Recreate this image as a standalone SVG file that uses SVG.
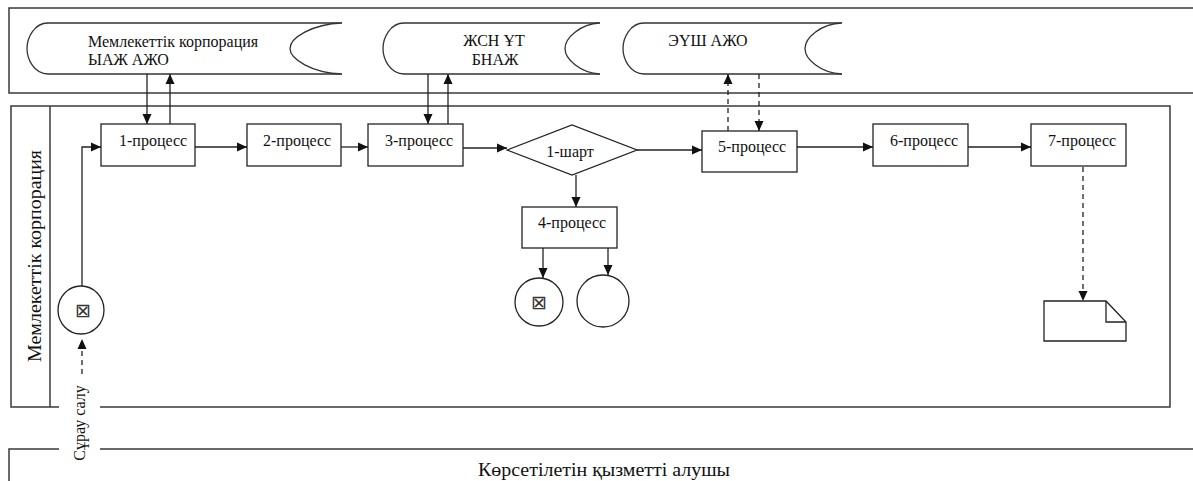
<svg xmlns="http://www.w3.org/2000/svg" width="1193" height="481" viewBox="0 0 1193 481">
<style>
  .pool{fill:none;stroke:#3a3a3a;stroke-width:1.5}
  .box{fill:#fff;stroke:#222;stroke-width:1.3}
  .store{fill:#fff;stroke:#333;stroke-width:1.3}
  .t{font-family:"Liberation Serif","DejaVu Serif",serif;font-size:16px;fill:#111}
  .sym{font-family:"DejaVu Sans",sans-serif;font-size:19px;fill:#333}
  .c{stroke:#222;stroke-width:1.3;fill:none}
  .d{stroke:#222;stroke-width:1.3;fill:none;stroke-dasharray:5,4}
</style>
<defs>
  <marker id="ah" viewBox="0 0 10 10" refX="10" refY="5" markerWidth="10" markerHeight="10" markerUnits="userSpaceOnUse" orient="auto">
    <path d="M0,0.5 L10,5 L0,9.5 Z" fill="#111"/>
  </marker>
</defs>
<rect width="1193" height="481" fill="#fff"/>

<g id="pools">
  <path class="pool" d="M1194,8 L9,8 L9,93 L1194,93"/>
  <path class="pool" d="M59,407 L11,407 L11,106 L1170,106 L1170,407 L100,407"/>
  <line class="pool" x1="50" y1="106" x2="50" y2="407"/>
  <path class="pool" d="M9,482 L9,449 L59,449 M100,449 L1194,449"/>
  <text class="t" style="font-size:19px" transform="translate(41,256) rotate(-90)" text-anchor="middle" textLength="212" lengthAdjust="spacingAndGlyphs">Мемлекеттік корпорация</text>
  <text class="t" transform="translate(85,423) rotate(-90)" text-anchor="middle">Сұрау салу</text>
  <text class="t" style="font-size:18px" x="604" y="476" text-anchor="middle" textLength="252" lengthAdjust="spacingAndGlyphs">Көрсетілетін қызметті алушы</text>
</g>

<g id="store1">
  <path class="store" d="M342,23 L48,23 C34,23 27,38 27,48.5 C27,59 34,74 48,74 L342,74"/>
  <path class="store" d="M342,23 C312,24 290,38 290,48.5 C290,59 312,73 342,74"/>
  <text class="t" x="88" y="47">Мемлекеттік корпорация</text>
  <text class="t" x="88" y="65">ЫАЖ АЖО</text>
</g>
<g id="store2">
  <path class="store" d="M600,23 L404,23 C390,23 383,38 383,48.5 C383,59 390,74 404,74 L600,74"/>
  <path class="store" d="M600,23 C580,24 565,38 565,48.5 C565,59 580,73 600,74"/>
  <text class="t" x="494" y="46" text-anchor="middle">ЖСН ҰТ</text>
  <text class="t" x="495" y="65" text-anchor="middle">БНАЖ</text>
</g>
<g id="store3">
  <path class="store" d="M842,23 L644,23 C630,23 623,38 623,48.5 C623,59 630,74 644,74 L842,74"/>
  <path class="store" d="M842,23 C820,24 805,38 805,48.5 C805,59 820,73 842,74"/>
  <text class="t" x="708" y="46" text-anchor="middle">ЭҮШ АЖО</text>
</g>

<g id="start">
  <ellipse class="box" cx="81" cy="310" rx="23" ry="24"/>
  <text class="sym" x="83" y="317" text-anchor="middle">⊠</text>
</g>
<g id="p1"><rect class="box" x="101" y="124" width="94" height="42"/><text class="t" x="119" y="146">1-процесс</text></g>
<g id="p2"><rect class="box" x="247" y="124" width="94" height="42"/><text class="t" x="263" y="146">2-процесс</text></g>
<g id="p3"><rect class="box" x="368" y="124" width="95" height="42"/><text class="t" x="385" y="146">3-процесс</text></g>
<g id="cond1"><path class="box" d="M507,150 L572,125 L637,150 L572,175 Z"/><text class="t" x="570" y="157" text-anchor="middle">1-шарт</text></g>
<g id="p4"><rect class="box" x="522" y="207" width="95" height="41"/><text class="t" x="538" y="228">4-процесс</text></g>
<g id="end1">
  <circle class="box" cx="539" cy="302" r="24"/>
  <text class="sym" x="539" y="309" text-anchor="middle">⊠</text>
</g>
<g id="end2"><circle class="box" cx="603" cy="301" r="26"/></g>
<g id="p5"><rect class="box" x="702" y="131" width="95" height="41"/><text class="t" x="718" y="152">5-процесс</text></g>
<g id="p6"><rect class="box" x="873" y="124" width="95" height="42"/><text class="t" x="890" y="146">6-процесс</text></g>
<g id="p7"><rect class="box" x="1031" y="124" width="95" height="42"/><text class="t" x="1048" y="146">7-процесс</text></g>
<g id="doc">
  <path class="box" d="M1044,301 L1106,301 L1126,322 L1126,341 L1044,341 Z"/>
  <path class="c" d="M1106,301 L1106,322 L1126,322"/>
</g>

<g id="connectors">
  <path class="c" d="M147,74 L147,124" marker-end="url(#ah)"/>
  <path class="c" d="M170,124 L170,74" marker-end="url(#ah)"/>
  <path class="c" d="M428,74 L428,124" marker-end="url(#ah)"/>
  <path class="c" d="M448,124 L448,74" marker-end="url(#ah)"/>
  <path class="d" d="M728,131 L728,74" marker-end="url(#ah)"/>
  <path class="d" d="M759,74 L759,131" marker-end="url(#ah)"/>
  <path class="c" d="M82,286 L82,147 L101,147" marker-end="url(#ah)"/>
  <path class="c" d="M195,147 L247,147" marker-end="url(#ah)"/>
  <path class="c" d="M341,147 L368,147" marker-end="url(#ah)"/>
  <path class="c" d="M463,148 L507,148" marker-end="url(#ah)"/>
  <path class="c" d="M637,150 L702,150" marker-end="url(#ah)"/>
  <path class="c" d="M576,175 L576,207" marker-end="url(#ah)"/>
  <path class="c" d="M543,248 L543,278" marker-end="url(#ah)"/>
  <path class="c" d="M608,248 L608,275" marker-end="url(#ah)"/>
  <path class="c" d="M797,147 L873,147" marker-end="url(#ah)"/>
  <path class="c" d="M968,147 L1031,147" marker-end="url(#ah)"/>
  <path class="d" d="M1083,167 L1083,301" marker-end="url(#ah)"/>
  <path class="d" d="M82,374 L82,339" marker-end="url(#ah)"/>
</g>
</svg>
